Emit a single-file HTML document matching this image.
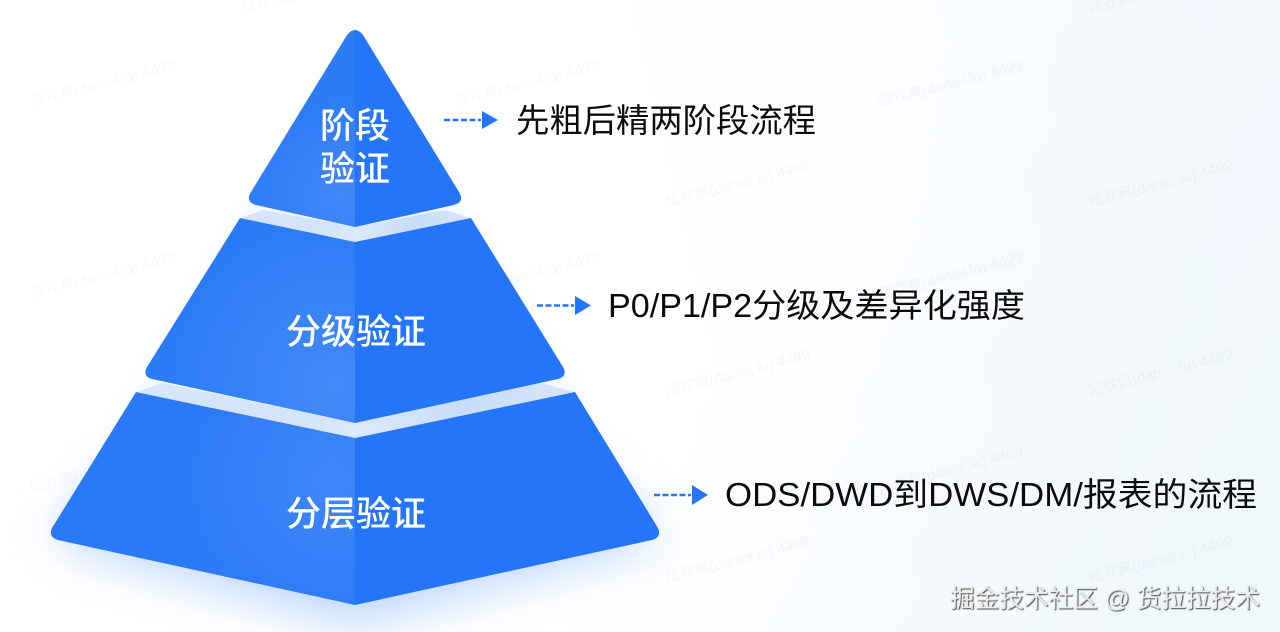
<!DOCTYPE html>
<html lang="zh">
<head>
<meta charset="utf-8">
<style>
html,body{margin:0;padding:0;width:1280px;height:632px;overflow:hidden;background:#fff}
svg{display:block}
text{font-family:"Liberation Sans","Noto Sans CJK SC",sans-serif}
.wm{font-size:15px;fill:#8a9099;fill-opacity:.07}
.lb{font-size:33px;fill:#0c0c0c}
.ct{font-size:35px;fill:#fff;font-weight:500;text-anchor:middle}
</style>
</head>
<body>
<svg width="1280" height="632" viewBox="0 0 1280 632" xmlns="http://www.w3.org/2000/svg">
<defs>
<linearGradient id="bg" gradientUnits="userSpaceOnUse" x1="640" y1="300" x2="1240" y2="160">
  <stop offset="0" stop-color="#ffffff"/>
  <stop offset="0.45" stop-color="#fbfdff"/>
  <stop offset="1" stop-color="#f4f9fe"/>
</linearGradient>
<linearGradient id="bg2" gradientUnits="userSpaceOnUse" x1="700" y1="380" x2="1100" y2="660">
  <stop offset="0" stop-color="#f3f9fd" stop-opacity="0"/>
  <stop offset="1" stop-color="#f1f8fc" stop-opacity="1"/>
</linearGradient>
<filter id="b30" filterUnits="userSpaceOnUse" x="-100" y="350" width="900" height="420"><feGaussianBlur stdDeviation="24"/></filter>
<filter id="b10" filterUnits="userSpaceOnUse" x="0" y="0" width="760" height="660"><feGaussianBlur stdDeviation="14"/></filter>
<linearGradient id="band" x1="0" y1="0" x2="1" y2="0">
  <stop offset="0" stop-color="#d5e5fb"/>
  <stop offset="0.4" stop-color="#d3e4fb"/>
  <stop offset="0.5" stop-color="#dbe9fc"/>
  <stop offset="0.75" stop-color="#c8ddf9"/>
  <stop offset="1" stop-color="#d6e6fb"/>
</linearGradient>
<radialGradient id="h1" gradientUnits="userSpaceOnUse" cx="345" cy="195" r="95">
  <stop offset="0" stop-color="#4187f8"/>
  <stop offset="1" stop-color="#2d7cf6"/>
</radialGradient>
<radialGradient id="h2" gradientUnits="userSpaceOnUse" cx="335" cy="385" r="170">
  <stop offset="0" stop-color="#448af9"/>
  <stop offset="1" stop-color="#2c7bf6"/>
</radialGradient>
<radialGradient id="h3" gradientUnits="userSpaceOnUse" cx="335" cy="480" r="170">
  <stop offset="0" stop-color="#3f86f9"/>
  <stop offset="1" stop-color="#2a79f6"/>
</radialGradient>
<clipPath id="c1"><path d="M347 35Q355 25 363 35L459 192Q465 202 454 205L355 227L256 205Q245 202 251 192Z"/></clipPath>
<clipPath id="c2"><path d="M240 218L355 242L471 218L563 367Q568 376 558 379L355 423L152 379Q142 376 147 367Z"/></clipPath>
<clipPath id="c3"><path d="M136 392L355 438L575 392L658 528Q662 537 652 540L355 605L58 540Q48 537 52 528Z"/></clipPath>
</defs>

<rect width="1280" height="632" fill="url(#bg)"/>
<rect width="1280" height="632" fill="url(#bg2)"/>

<!-- watermarks -->
<g>
<text transform="translate(32 107) rotate(-14.500)" class="wm">陆欢典(daniel.lu) 4499</text>
<text transform="translate(456 107) rotate(-14.500)" class="wm">陆欢典(daniel.lu) 4499</text>
<text transform="translate(880 107) rotate(-14.500)" class="wm">陆欢典(daniel.lu) 4499</text>
<text transform="translate(243 14) rotate(-14.500)" class="wm">陆欢典(daniel.lu) 4499</text>
<text transform="translate(1090 14) rotate(-14.500)" class="wm">陆欢典(daniel.lu) 4499</text>
<text transform="translate(667 207) rotate(-14.500)" class="wm">陆欢典(daniel.lu) 4499</text>
<text transform="translate(1090 207) rotate(-14.500)" class="wm">陆欢典(daniel.lu) 4499</text>
<text transform="translate(32 299) rotate(-14.500)" class="wm">陆欢典(daniel.lu) 4499</text>
<text transform="translate(456 299) rotate(-14.500)" class="wm">陆欢典(daniel.lu) 4499</text>
<text transform="translate(880 299) rotate(-14.500)" class="wm">陆欢典(daniel.lu) 4499</text>
<text transform="translate(667 396) rotate(-14.500)" class="wm">陆欢典(daniel.lu) 4499</text>
<text transform="translate(1090 396) rotate(-14.500)" class="wm">陆欢典(daniel.lu) 4499</text>
<text transform="translate(32 493) rotate(-14.500)" class="wm">陆欢典(daniel.lu) 4499</text>
<text transform="translate(456 493) rotate(-14.500)" class="wm">陆欢典(daniel.lu) 4499</text>
<text transform="translate(880 493) rotate(-14.500)" class="wm">陆欢典(daniel.lu) 4499</text>
<text transform="translate(667 583) rotate(-14.500)" class="wm">陆欢典(daniel.lu) 4499</text>
<text transform="translate(1090 583) rotate(-14.500)" class="wm">陆欢典(daniel.lu) 4499</text>
</g>

<!-- glows -->
<path d="M50 540L355 625L660 540L600 480L110 480Z" fill="#8fbaf8" fill-opacity=".6" filter="url(#b30)"/>
<path d="M355 50L470 225L565 380L650 530L355 590L60 530L145 380L240 225Z" fill="#cfe2fb" fill-opacity=".3" filter="url(#b10)"/>

<!-- bands -->
<path d="M240 218L263 210L355 227L445 210L471 218L355 242Z" fill="url(#band)"/>
<path d="M137 392L163 383L355 423L540 383L575 392L355 438Z" fill="url(#band)"/>

<!-- top -->
<g clip-path="url(#c1)">
  <rect x="240" y="20" width="115" height="215" fill="url(#h1)"/>
  <rect x="355" y="20" width="115" height="215" fill="#2475f7"/>
</g>
<!-- middle -->
<g clip-path="url(#c2)">
  <rect x="140" y="215" width="215" height="215" fill="url(#h2)"/>
  <rect x="355" y="215" width="215" height="215" fill="#2475f7"/>
</g>
<!-- bottom -->
<g clip-path="url(#c3)">
  <rect x="45" y="390" width="310" height="220" fill="url(#h3)"/>
  <rect x="355" y="390" width="310" height="220" fill="#2475f7"/>
</g>

<!-- center labels -->
<text class="ct" x="355" y="138">阶段</text>
<text class="ct" x="355" y="181">验证</text>
<text class="ct" x="356" y="344">分级验证</text>
<text class="ct" x="356" y="526">分层验证</text>

<!-- arrows -->
<g fill="#2475f7" stroke="none">
  <path d="M482 111L498 120L482 129Z"/>
  <path d="M575 296L591 305.500L575 315Z"/>
  <path d="M692 485L708 495L692 505Z"/>
</g>
<g stroke="#2475f7" stroke-width="2.500" stroke-dasharray="6 2.500" fill="none">
  <path d="M444 120H481"/>
  <path d="M537 305.500H574"/>
  <path d="M654 495H691"/>
</g>

<!-- right labels -->
<text class="lb" x="516" y="132" textLength="300" lengthAdjust="spacingAndGlyphs">先粗后精两阶段流程</text>
<text class="lb" x="608" y="317" textLength="417" lengthAdjust="spacingAndGlyphs">P0/P1/P2分级及差异化强度</text>
<text class="lb" x="725" y="506" textLength="532" lengthAdjust="spacingAndGlyphs">ODS/DWD到DWS/DM/报表的流程</text>

<!-- footer watermark -->
<text x="950" y="607" textLength="310" lengthAdjust="spacingAndGlyphs" style="font-size:25px;fill:#ececec;filter:drop-shadow(1px 1px 0.6px #4a4a4a)">掘金技术社区 @ 货拉拉技术</text>
</svg>
</body>
</html>
